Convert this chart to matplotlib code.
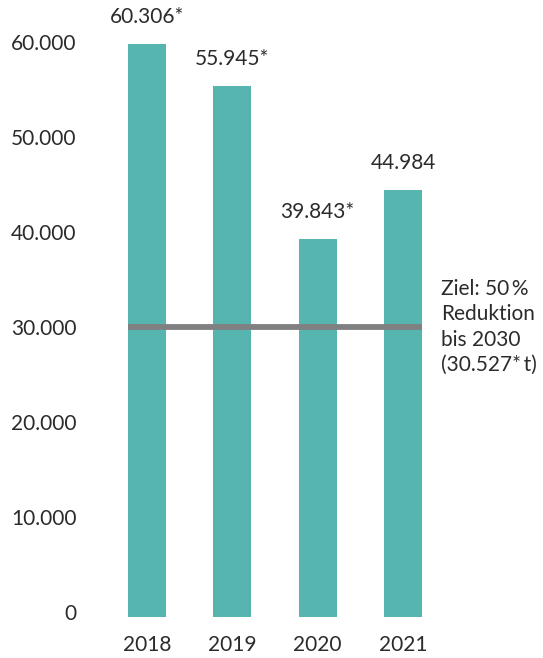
import matplotlib
matplotlib.use('Agg')
import matplotlib.pyplot as plt
import matplotlib.transforms as mtransforms

plt.rcParams['font.family'] = ['Lato', 'DejaVu Sans']

# data
years = ['2018', '2019', '2020', '2021']
values = [60306, 55945, 39843, 44984]
value_labels = ['60.306*', '55.945*', '39.843*', '44.984']
target = 30527
target_label = 'Ziel: 50\u2009%\nReduktion\nbis 2030\n(30.527*\u2009t)'
yticks = [0, 10000, 20000, 30000, 40000, 50000, 60000]
ytick_labels = ['0', '10.000', '20.000', '30.000', '40.000', '50.000', '60.000']

bar_color = '#56b5af'
line_color = '#808083'
text_color = '#2b2b2b'

fig = plt.figure(figsize=(5.43, 6.58), dpi=100)
ax = fig.add_axes([0.1764, 0.0623, 0.6286, 0.924])

x = list(range(len(years)))
bw = 0.445
ax.bar(x, values, width=bw, color=bar_color, zorder=2)

for xi, v, lab in zip(x, values, value_labels):
    ax.annotate(lab, (xi, v), xytext=(0, 15), textcoords='offset points',
                ha='center', va='baseline', fontsize=15, color=text_color,
                annotation_clip=False)

# target line
ax.plot([x[0] - bw / 2, x[-1] + bw / 2], [target, target], color=line_color,
        lw=4.2, solid_capstyle='butt', zorder=3)
ax.text(3.445, target, target_label, ha='left', va='center', fontsize=15,
        color=text_color, linespacing=1.32, clip_on=False)

ax.set_xlim(-0.6, 3.4)
ax.set_ylim(0, 64000)
ax.set_xticks(x)
ax.set_xticklabels(years)
ax.set_yticks(yticks)
ax.set_yticklabels(ytick_labels)
ax.tick_params(axis='both', length=0, labelsize=15, labelcolor=text_color)
ax.tick_params(axis='y', pad=14)
ax.tick_params(axis='x', pad=13)
for s in ax.spines.values():
    s.set_visible(False)

# y labels sit a little above their gridline value in the original
shift = mtransforms.ScaledTranslation(0, 5 / 100, fig.dpi_scale_trans)
for lbl in ax.get_yticklabels():
    lbl.set_transform(lbl.get_transform() + shift)

fig.savefig('out.png', dpi=100)
